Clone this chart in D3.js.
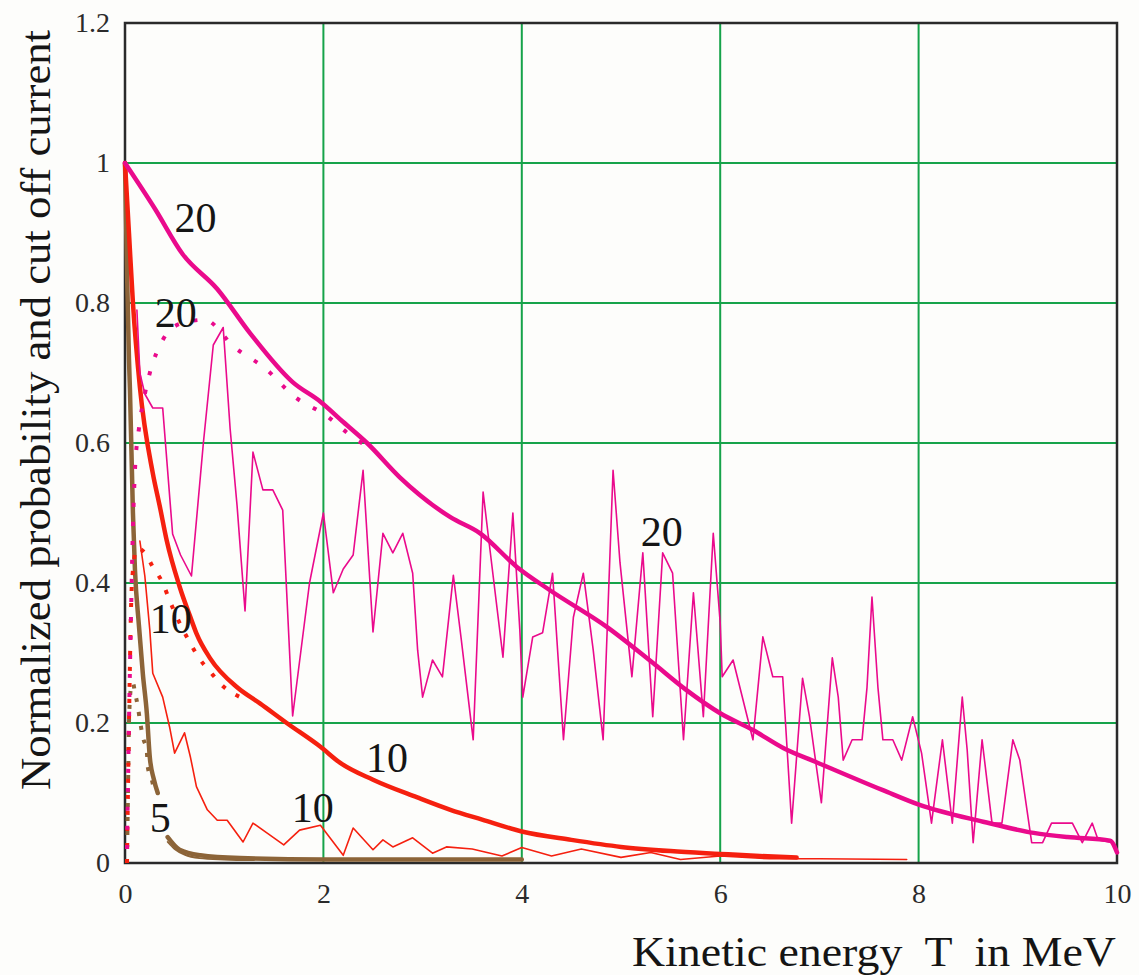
<!DOCTYPE html>
<html>
<head>
<meta charset="utf-8">
<script src="https://cdn.jsdelivr.net/npm/d3@7"></script>
<style>
  html, body { margin: 0; padding: 0; background: #fdfdfb; }
  svg { display: block; }
  svg text { font-family: "Liberation Serif", "DejaVu Serif", serif; }
</style>
</head>
<body>
<svg id="chart" width="1139" height="975"></svg>
<script>
// ---------------- DATA ----------------
const xTicks = [0, 2, 4, 6, 8, 10];
const yTicks = [0, 0.2, 0.4, 0.6, 0.8, 1, 1.2];
const xLabel = "Kinetic energy  T  in MeV";
const yLabel = "Normalized probability and cut off current";

// 20 MeV cut-off current (thick magenta)
const cut20 = [[0,1],[0.3,0.935],[0.58,0.87],[0.93,0.82],[1.26,0.757],[1.69,0.687],[1.97,0.659],[2.2,0.63],[2.44,0.60],[2.77,0.551],[3.28,0.494],[3.58,0.471],[3.95,0.423],[4.28,0.39],[4.86,0.337],[5.32,0.286],[5.66,0.247],[6.0,0.214],[6.33,0.19],[6.64,0.164],[6.97,0.144],[7.64,0.104],[8.01,0.083],[8.65,0.059],[9.16,0.043],[9.5,0.037],[9.93,0.032],[10,0.015]];
// 20 MeV probability (dotted magenta)
const prob20 = [[0.02,0.02],[0.04,0.2],[0.06,0.35],[0.08,0.48],[0.1,0.56],[0.14,0.62],[0.2,0.67],[0.25,0.70],[0.38,0.747],[0.55,0.77],[0.8,0.776],[1.11,0.736],[1.41,0.707],[1.71,0.666],[2.02,0.64],[2.34,0.604],[2.45,0.595]];
// 20 MeV simulated (thin magenta)
const sim20 = [[0.12,0.79],[0.15,0.70],[0.2,0.67],[0.28,0.65],[0.38,0.65],[0.48,0.47],[0.56,0.44],[0.67,0.41],[0.79,0.6],[0.89,0.74],[0.99,0.765],[1.06,0.62],[1.13,0.51],[1.21,0.36],[1.29,0.587],[1.39,0.533],[1.49,0.533],[1.59,0.504],[1.69,0.21],[1.86,0.40],[2.0,0.5],[2.1,0.386],[2.2,0.42],[2.3,0.44],[2.4,0.561],[2.5,0.33],[2.6,0.471],[2.7,0.443],[2.8,0.471],[2.9,0.414],[2.95,0.304],[3.0,0.237],[3.1,0.29],[3.2,0.266],[3.31,0.411],[3.39,0.319],[3.51,0.176],[3.61,0.53],[3.66,0.47],[3.81,0.294],[3.91,0.5],[3.98,0.333],[4.01,0.237],[4.11,0.323],[4.21,0.329],[4.31,0.414],[4.42,0.176],[4.52,0.351],[4.62,0.414],[4.72,0.304],[4.82,0.176],[4.92,0.561],[4.99,0.429],[5.11,0.266],[5.22,0.443],[5.32,0.209],[5.42,0.443],[5.52,0.414],[5.63,0.176],[5.73,0.386],[5.83,0.209],[5.93,0.471],[6.0,0.343],[6.02,0.266],[6.13,0.29],[6.33,0.176],[6.43,0.323],[6.53,0.266],[6.63,0.266],[6.72,0.057],[6.83,0.264],[6.9,0.209],[7.02,0.086],[7.13,0.293],[7.19,0.237],[7.24,0.147],[7.33,0.176],[7.43,0.176],[7.48,0.251],[7.53,0.38],[7.59,0.251],[7.64,0.176],[7.74,0.176],[7.83,0.147],[7.94,0.209],[8.03,0.157],[8.13,0.057],[8.24,0.176],[8.34,0.057],[8.44,0.237],[8.49,0.161],[8.55,0.029],[8.64,0.176],[8.74,0.057],[8.84,0.057],[8.95,0.176],[9.02,0.147],[9.14,0.029],[9.25,0.029],[9.34,0.057],[9.55,0.057],[9.65,0.029],[9.75,0.057],[9.81,0.033],[9.96,0.029]];

// 10 MeV cut-off current (thick red)
const cut10 = [[0,1],[0.04,0.9],[0.08,0.8],[0.15,0.68],[0.28,0.557],[0.35,0.51],[0.42,0.461],[0.55,0.395],[0.67,0.347],[0.72,0.328],[0.86,0.292],[1.13,0.251],[1.36,0.228],[1.63,0.2],[1.97,0.166],[2.17,0.143],[2.5,0.119],[2.94,0.094],[3.28,0.076],[3.6,0.062],[4.0,0.045],[4.5,0.033],[5.0,0.023],[5.5,0.017],[6.0,0.013],[6.4,0.01],[6.77,0.008]];
// 10 MeV probability (dotted red)
const prob10 = [[0.02,0.0],[0.04,0.2],[0.07,0.4],[0.12,0.45],[0.2,0.443],[0.28,0.423],[0.38,0.40],[0.45,0.375],[0.55,0.343],[0.65,0.316],[0.74,0.294],[0.86,0.273],[1.0,0.251],[1.16,0.237]];
// 10 MeV simulated (thin red)
const sim10 = [[0.15,0.46],[0.2,0.41],[0.25,0.333],[0.28,0.271],[0.38,0.237],[0.45,0.194],[0.5,0.157],[0.6,0.186],[0.66,0.151],[0.72,0.109],[0.83,0.076],[0.93,0.061],[1.03,0.061],[1.19,0.03],[1.29,0.057],[1.43,0.043],[1.6,0.026],[1.76,0.047],[1.97,0.054],[2.2,0.011],[2.3,0.05],[2.5,0.019],[2.6,0.033],[2.7,0.023],[2.9,0.036],[3.1,0.014],[3.24,0.023],[3.5,0.02],[3.8,0.01],[4.0,0.022],[4.3,0.01],[4.6,0.02],[5.0,0.008],[5.3,0.015],[5.6,0.005],[6.0,0.01],[6.5,0.006],[7.0,0.006],[7.88,0.005]];

// 5 MeV cut-off current (thick brown), null = gap
const cut5 = [[0,1],[0.02,0.85],[0.04,0.72],[0.05,0.676],[0.08,0.5],[0.1,0.42],[0.14,0.34],[0.18,0.27],[0.22,0.214],[0.25,0.151],[0.29,0.12],[0.33,0.1],[0.38,null],[0.43,0.037],[0.55,0.019],[0.76,0.011],[1.16,0.007],[2,0.005],[3,0.005],[4,0.005]];
// 5 MeV probability (dotted brown)
const prob5 = [[0.02,0.0],[0.03,0.1],[0.04,0.2],[0.06,0.25],[0.08,0.257],[0.1,0.244],[0.13,0.223],[0.15,0.204],[0.18,0.18],[0.22,0.159],[0.23,0.137],[0.27,0.119],[0.3,0.1]];
// 5 MeV simulated (thin brown)
const sim5 = [[0.43,0.03],[0.5,0.02],[0.6,0.012],[0.75,0.007],[1.0,0.005],[1.3,0.004]];

// curve labels: [text, x, y] in data units (baseline-left)
const curveLabels = [["20",0.5,0.901],["20",0.3,0.766],["20",5.2,0.453],["10",0.25,0.329],["10",2.43,0.13],["10",1.68,0.059],["5",0.25,0.044]];

// ---------------- DRAW ----------------
const W = 1139, H = 975;
const m = {left:125, right:1117, top:23, bottom:863};
const svg = d3.select("#chart");
const x = d3.scaleLinear().domain([0,10]).range([m.left, m.right]);
const y = d3.scaleLinear().domain([0,1.2]).range([m.bottom, m.top]);

const MAG = "#ea0a8c", RED = "#f5200f", BROWN = "#8c6438", GREEN = "#16a34a";
const serif = '"Liberation Serif", "DejaVu Serif", serif';

svg.append("rect").attr("width",W).attr("height",H).attr("fill","#fdfdfb");

// grid
const g = svg.append("g");
g.selectAll(".vg").data(xTicks.slice(1,-1)).join("line")
  .attr("x1",d=>x(d)).attr("x2",d=>x(d)).attr("y1",y(1.2)).attr("y2",y(0))
  .attr("stroke",GREEN).attr("stroke-width",2);
g.selectAll(".hg").data(yTicks.slice(1,-1)).join("line")
  .attr("x1",x(0)).attr("x2",x(10)).attr("y1",d=>y(d)).attr("y2",d=>y(d))
  .attr("stroke",GREEN).attr("stroke-width",2);

// frame
svg.append("rect").attr("x",x(0)).attr("y",y(1.2)).attr("width",x(10)-x(0)).attr("height",y(0)-y(1.2))
  .attr("fill","none").attr("stroke","#2a2a2a").attr("stroke-width",2.5);

// axes via d3 axis (labels only)
const xAxis = svg.append("g").attr("transform",`translate(0,${y(0)})`)
  .call(d3.axisBottom(x).tickValues(xTicks).tickSize(0).tickPadding(20).tickFormat(d3.format("d")));
xAxis.select(".domain").remove();
xAxis.attr("font-family",null);
xAxis.selectAll("text").style("font-family",serif).attr("font-size",28).attr("fill","#2b2b2b");

const yAxis = svg.append("g").attr("transform",`translate(${x(0)},0)`)
  .call(d3.axisLeft(y).tickValues(yTicks).tickSize(0).tickPadding(15).tickFormat(d=>d===0?"0":(d===1?"1":d3.format(".1f")(d))));
yAxis.select(".domain").remove();
yAxis.attr("font-family",null);
yAxis.selectAll("text").style("font-family",serif).attr("font-size",28).attr("fill","#2b2b2b");

const lineLin = d3.line().defined(d=>d[1]!==null).x(d=>x(d[0])).y(d=>y(d[1]));
const lineSmooth = d3.line().defined(d=>d[1]!==null).x(d=>x(d[0])).y(d=>y(d[1])).curve(d3.curveMonotoneX);
function draw(data, color, width, dash, smooth){
  const p = svg.append("path").datum(data).attr("d",smooth?lineSmooth:lineLin)
    .attr("fill","none").attr("stroke",color).attr("stroke-width",width)
    .attr("stroke-linejoin","round");
  if(dash){ p.attr("stroke-dasharray",dash).attr("stroke-linecap","butt"); }
  else p.attr("stroke-linecap","round");
}

draw(sim5, BROWN, 1.8, null, true);
draw(prob5, BROWN, 4, "4,10", true);
draw(cut5, BROWN, 4.5, null, true);
draw(sim10, RED, 1.6);
draw(prob10, RED, 4, "4,12", true);
draw(cut10, RED, 4.5, null, true);
draw(sim20, MAG, 1.6);
draw(prob20, MAG, 4, "4,15", true);
draw(cut20, MAG, 4.5, null, true);

// curve labels
svg.selectAll(".cl").data(curveLabels).join("text")
  .attr("x",d=>x(d[1])).attr("y",d=>y(d[2]))
  .style("font-family",serif).attr("font-size",42).attr("fill","#151515")
  .text(d=>d[0]);

// axis titles
svg.append("text").attr("x",632).attr("y",966)
  .style("font-family",serif).attr("font-size",42).attr("fill","#151515")
  .attr("textLength",484).attr("lengthAdjust","spacingAndGlyphs")
  .style("white-space","pre").attr("xml:space","preserve")
  .text(xLabel);

svg.append("text").attr("transform","translate(50,790) rotate(-90)")
  .style("font-family",serif).attr("font-size",42).attr("fill","#151515")
  .attr("textLength",760).attr("lengthAdjust","spacingAndGlyphs")
  .text(yLabel);
</script>
</body>
</html>
